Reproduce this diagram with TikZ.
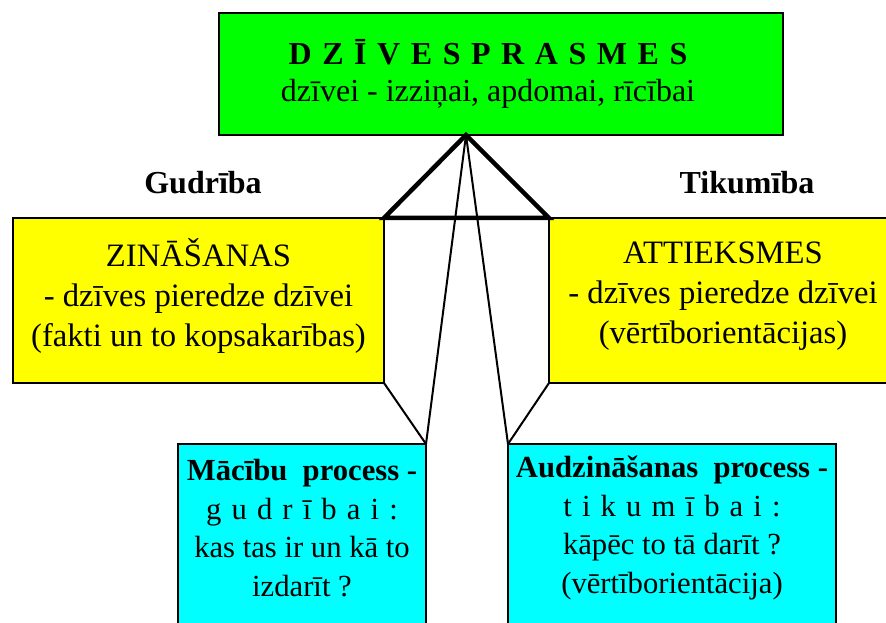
\documentclass[tikz,border=0pt]{standalone}
\usepackage{fontspec}
\setmainfont{Liberation Serif}
\newlength{\du}
\setlength{\du}{0.75pt}
\definecolor{boxgreen}{rgb}{0.000000, 1.000000, 0.000000}
\definecolor{boxyellow}{rgb}{1.000000, 1.000000, 0.000000}
\definecolor{boxcyan}{rgb}{0.000000, 1.000000, 1.000000}
\newcommand{\spaced}[1]{{\spaceskip=0.33em\relax #1}}
\tikzset{
  panel/.style={draw=black, line width=2\du, inner sep=0pt, outer sep=0pt},
  txt/.style={align=center, inner sep=0pt, font=\fontsize{23}{29}\selectfont},
  heavy/.style={line width=4.5\du, line join=miter},
  thinline/.style={line width=2\du}
}
\begin{document}
\begin{tikzpicture}[x=1\du, y=-1\du]
\useasboundingbox (0,0) rectangle (886,623);
\clip (0,0) rectangle (886,623);
% top box
\node[panel, fill=boxgreen, minimum width=564\du, minimum height=122\du] (top) at (501,74) {};
\node[txt, font=\fontsize{24}{28}\selectfont] (toptxt) at (488,74) {\textbf{\spaced{D Z Ī V E S P R A S M E S}}\\dzīvei - izziņai, apdomai, rīcībai};
% side labels
\node[txt, font=\fontsize{24}{28}\bfseries] (gud) at (203,183) {Gudrība};
\node[txt, font=\fontsize{24}{28}\bfseries] (tik) at (747,183) {Tikumība};
% yellow boxes
\node[panel, fill=boxyellow, minimum width=371\du, minimum height=165\du] (zin) at (198.5,300.5) {};
\node[txt, font=\fontsize{24.5}{30}\selectfont] (zintxt) at (198.5,296) {ZINĀŠANAS\\- dzīves pieredze dzīvei\\(fakti un to kopsakarības)};
\node[panel, fill=boxyellow, minimum width=348\du, minimum height=165\du] (att) at (723,300.5) {};
\node[txt, font=\fontsize{24.5}{30}\selectfont] (atttxt) at (723,296) {ATTIEKSMES\\- dzīves pieredze dzīvei\\(vērtīborientācijas)};
% cyan boxes
\node[panel, fill=boxcyan, minimum width=248\du, minimum height=200\du] (mac) at (302,544) {};
\node[txt] (mactxt) at (302,528) {\textbf{Mācību\ \ process -}\\\spaced{g u d r ī b a i :}\\kas tas ir un kā to\\izdarīt ?};
\node[panel, fill=boxcyan, minimum width=328\du, minimum height=200\du] (aud) at (672,544) {};
\node[txt] (audtxt) at (672,528) {\textbf{Audzināšanas\ \ process -}\\\spaced{t i k u m ī b a i :}\\kāpēc to tā darīt ?\\(vērtīborientācija)};
% connectors
\coordinate (apex) at (466,135);
\draw[heavy] (zin.north east) -- (apex) -- (att.north west) -- cycle;
\draw[thinline] (apex) -- (mac.north east);
\draw[thinline] (apex) -- (aud.north west);
\draw[thinline] (zin.south east) -- (mac.north east);
\draw[thinline] (att.south west) -- (aud.north west);
\end{tikzpicture}
\end{document}
